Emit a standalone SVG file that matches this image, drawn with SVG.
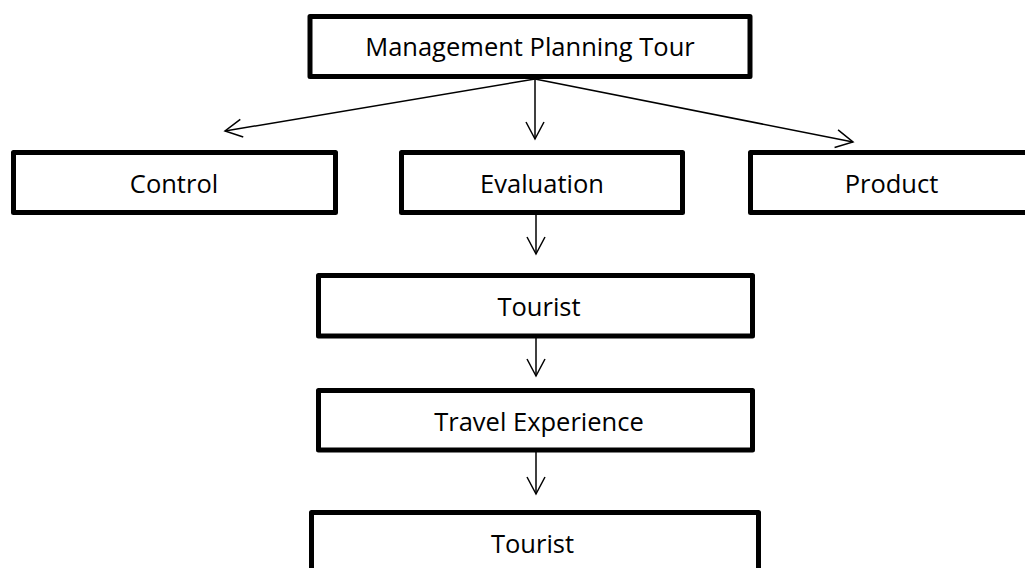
<svg xmlns="http://www.w3.org/2000/svg" width="1025" height="568" viewBox="0 0 1025 568">
<style>
.box{fill:#fff;stroke:#000;stroke-width:5;stroke-linejoin:round}
.lbl{font-family:"Open Sans","Noto Sans",sans-serif;font-size:25.5px;fill:#000;text-anchor:middle}
.con{stroke:#000;stroke-width:1.5;fill:none;marker-end:url(#arr)}
</style>
<defs>
<marker id="arr" markerUnits="userSpaceOnUse" markerWidth="40" markerHeight="40" viewBox="-20 -20 40 40" refX="0" refY="0" orient="auto">
<path d="M-17,-9 L0,0 L-17,9" fill="none" stroke="#000" stroke-width="1.5"/>
</marker>
</defs>
<rect width="1025" height="568" fill="#fff"/>
<g id="connectors">
<line class="con" x1="535" y1="79" x2="225" y2="131"/>
<line class="con" x1="535" y1="79" x2="535" y2="139"/>
<line class="con" x1="535" y1="79" x2="853" y2="142"/>
<line class="con" x1="536" y1="215" x2="536" y2="254"/>
<line class="con" x1="536" y1="338" x2="536" y2="376"/>
<line class="con" x1="536" y1="452" x2="536" y2="494"/>
</g>
<g id="n-management">
<rect class="box" x="310" y="16.5" width="440" height="60"/>
<text class="lbl" x="530" y="56">Management Planning Tour</text>
</g>
<g id="n-control">
<rect class="box" x="13.5" y="152.5" width="322" height="60"/>
<text class="lbl" x="174" y="193">Control</text>
</g>
<g id="n-evaluation">
<rect class="box" x="401.5" y="152.5" width="281" height="60"/>
<text class="lbl" x="542" y="193">Evaluation</text>
</g>
<g id="n-product">
<rect class="box" x="750.5" y="152.5" width="282" height="60"/>
<text class="lbl" x="891.5" y="193">Product</text>
</g>
<g id="n-tourist1">
<rect class="box" x="318.5" y="275.5" width="434" height="60.5"/>
<text class="lbl" x="539" y="315.5">Tourist</text>
</g>
<g id="n-travel">
<rect class="box" x="318.5" y="390.5" width="434" height="59.5"/>
<text class="lbl" x="539" y="431">Travel Experience</text>
</g>
<g id="n-tourist2">
<rect class="box" x="311.5" y="512.5" width="447" height="70"/>
<text class="lbl" x="532.5" y="552.5">Tourist</text>
</g>
</svg>
